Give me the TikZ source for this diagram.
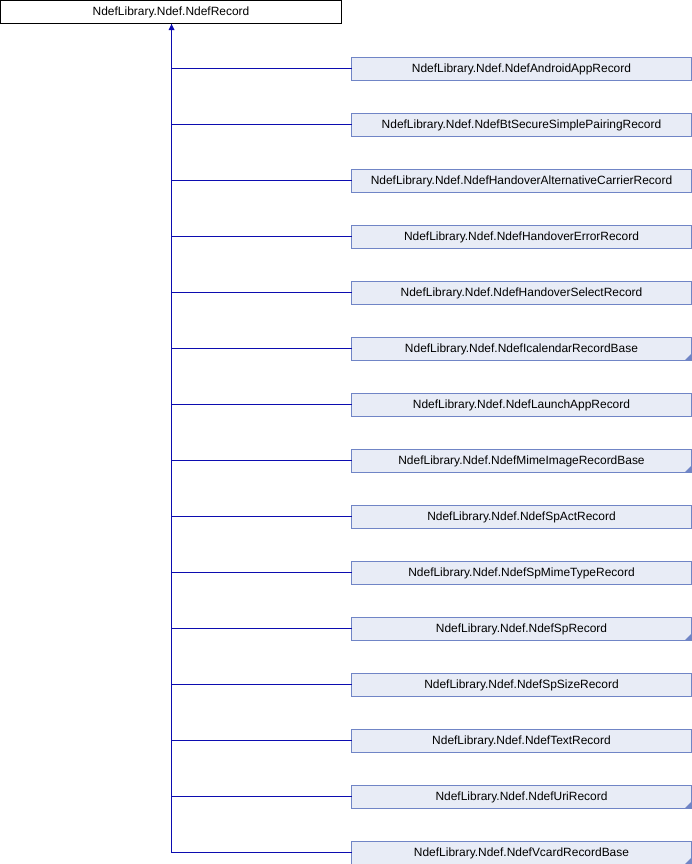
\documentclass[tikz,border=0pt]{standalone}
\usepackage{fontspec}
\setmainfont{Liberation Sans}
\begin{document}
\begin{tikzpicture}[x=1bp,y=-1bp,
  base/.style={draw=black,fill=white,line width=1bp,outer sep=0pt,minimum width=341bp,minimum height=23bp,inner sep=0pt,font=\fontsize{12}{14}\selectfont,anchor=north west},
  child/.style={draw=boxedge,fill=boxfill,line width=1bp,outer sep=0pt,minimum width=340bp,minimum height=23bp,inner sep=0pt,font=\fontsize{12}{14}\selectfont,anchor=north west},
  conn/.style={draw=edgeblue,line width=1bp},
  foldmark/.style={fill=boxedge}]
\definecolor{boxfill}{HTML}{E8ECF6}
\definecolor{boxedge}{HTML}{7085C6}
\definecolor{edgeblue}{HTML}{0C0CB0}
\useasboundingbox (0,0) rectangle (692,864);
\node[base] (top) at (0.5,0.5) {NdefLibrary.Ndef.NdefRecord};
\coordinate (trunk) at (171.5,852.5);
\draw[conn] (top.south -| trunk) -- (trunk);
\fill[edgeblue] (171.5,24) -- (174.5,30) -- (168.5,30) -- cycle;
\foreach \n/\name/\f [count=\i from 0] in {
  a/NdefAndroidAppRecord/0,
  b/NdefBtSecureSimplePairingRecord/0,
  c/NdefHandoverAlternativeCarrierRecord/0,
  d/NdefHandoverErrorRecord/0,
  e/NdefHandoverSelectRecord/0,
  f/NdefIcalendarRecordBase/1,
  g/NdefLaunchAppRecord/0,
  h/NdefMimeImageRecordBase/1,
  i/NdefSpActRecord/0,
  j/NdefSpMimeTypeRecord/0,
  k/NdefSpRecord/1,
  l/NdefSpSizeRecord/0,
  m/NdefTextRecord/0,
  n/NdefUriRecord/1,
  o/NdefVcardRecordBase/1}{
  \node[child] (\n) at (351.5,57.5+56*\i) {NdefLibrary.Ndef.\name};
  \draw[conn] ([yshift=0.5bp]trunk |- \n.west) -- ([yshift=0.5bp]\n.west);
  \ifnum\f=1
    \fill[foldmark] (\n.south east) -- ++(0,-7) -- ++(-7,7) -- cycle;
  \fi
}
\end{tikzpicture}
\end{document}
